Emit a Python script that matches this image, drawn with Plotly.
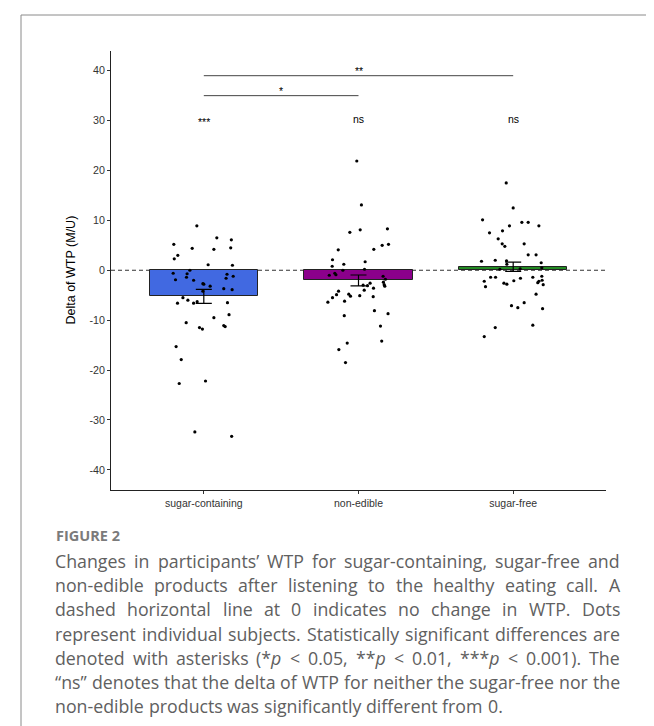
import glob
import os
import struct
import plotly.graph_objects as go

# ---------------- data ----------------
categories = ["sugar-containing", "non-edible", "sugar-free"]
bar_means = [-5.25, -2.05, 0.7]
bar_se = [1.4, 1.1, 0.94]
bar_colors = ["#4169E1", "#8B008B", "#228B22"]

sc_vals = [8.9, 6.5, 6.1, 5.2, 4.4, 4.2, 4.5, 3.0, 2.3, 1.1, 1.0, 0.0, -0.6, -0.7, -1.4,
           -0.8, -1.6, -1.2, -1.9, -2.0, -2.7, -2.8, -3.2, -3.7, -3.9, -4.2, -5.5, -6.0,
           -6.6, -6.6, -6.3, -6.5, -8.9, -9.5, -10.5, -11.5, -11.8, -11.1, -11.3, -15.3,
           -17.9, -22.7, -22.2, -32.4, -33.3]
sc_jit = [-0.045, 0.084, 0.178, -0.194, -0.075, 0.065, 0.174, -0.168, -0.191, 0.028,
          0.185, -0.09, -0.198, -0.108, -0.112, 0.15, 0.144, 0.19, -0.183, -0.066,
          -0.006, 0.0, 0.041, 0.129, 0.183, -0.006, -0.135, -0.103, -0.17, -0.066,
          -0.043, 0.153, 0.163, 0.065, -0.114, -0.028, -0.009, 0.129, 0.138, -0.179,
          -0.146, -0.159, 0.011, -0.058, 0.18]

ne_vals = [21.9, 13.1, 7.6, 8.1, 8.3, 4.1, 4.2, 5.0, 5.2, 2.1, 0.8, 1.2, 1.7, 0.2, 0.0,
           -1.0, -0.6, -0.9, -1.2, -1.8, -2.4, -2.9, -3.2, -3.0, -3.1, -2.6, -3.6, -4.0,
           -4.2, -4.9, -5.5, -6.4, -6.2, -4.8, -5.2, -5.1, -5.3, -8.1, -8.7, -9.1, -11.2,
           -14.6, -15.9, -14.2, -18.5]
ne_jit = [-0.011, 0.019, -0.056, 0.011, 0.187, -0.131, 0.099, 0.153, 0.194, -0.168,
          -0.17, -0.095, 0.043, 0.039, -0.101, -0.189, -0.153, -0.146, 0.159, 0.174,
          0.161, 0.166, 0.170, 0.03, 0.058, 0.075, 0.097, 0.037, -0.129, -0.142,
          -0.168, -0.198, -0.09, -0.063, -0.052, 0.008, 0.095, 0.103, 0.191, -0.092,
          0.142, -0.073, -0.127, 0.15, -0.084]

sf_vals = [17.5, 12.5, 10.1, 9.6, 9.6, 8.9, 8.9, 7.9, 7.5, 6.3, 5.3, 4.8, 5.3, 3.1, 3.1,
           1.8, 2.0, 1.9, 1.2, 1.5, 0.2, 0.3, 0.5, -2.2, -3.3, -1.4, -1.4, -2.6, -2.8,
           -2.1, -1.6, -1.4, -1.2, -2.0, -2.2, -2.5, -2.9, -4.8, -6.5, -7.1, -7.5, -7.7,
           -11.0, -11.5, -13.3]
sf_jit = [-0.045, 0.0, -0.198, 0.056, 0.097, 0.166, -0.024, -0.069, -0.153, -0.097,
          -0.071, -0.054, 0.071, 0.097, 0.148, -0.205, -0.116, -0.043, -0.041, 0.181,
          -0.086, 0.045, 0.185, -0.187, -0.179, -0.146, -0.114, -0.06, -0.041, 0.004,
          0.047, 0.127, 0.185, 0.187, 0.166, 0.159, 0.194, 0.148, 0.071, -0.011, 0.03,
          0.19, 0.127, -0.116, -0.187]

y_ticks = [-40, -30, -20, -10, 0, 10, 20, 30, 40]
y_ticklabels = ["-40", "-30", "-20", "-10", "0", "10", "20", "30", "40"]
y_title = "Delta of WTP (M/U)"

# significance brackets: (from category, to category, y, label)
brackets = [(0, 1, 35, "*"), (0, 2, 39, "**")]
vs_zero_labels = ["***", "ns", "ns"]
vs_zero_y = 30.4

figure_label = "FIGURE 2"
caption_lines = [
    "Changes in participants\u2019 WTP for sugar-containing, sugar-free and",
    "non-edible products after listening to the healthy eating call. A",
    "dashed horizontal line at 0 indicates no change in WTP. Dots",
    "represent individual subjects. Statistically significant differences are",
    "denoted with asterisks (*p < 0.05, **p < 0.01, ***p < 0.001). The",
    "\u201cns\u201d denotes that the delta of WTP for neither the sugar-free nor the",
    "non-edible products was significantly different from 0.",
]

# ---------------- layout geometry (px) ----------------
W, H = 654, 726
PL, PR, PT, PB = 103, 598, 43, 482


def px_x(px):
    return (px - PL) / (PR - PL)


def px_y(py):
    return (PB - py) / (PB - PT)


AX_FONT = "Liberation Sans, Arial, Helvetica, sans-serif"
CAP_FONT = "Open Sans"

fig = go.Figure()

# bars
fig.add_trace(go.Bar(
    x=[0, 1, 2], y=bar_means, width=0.7,
    marker=dict(color=bar_colors, line=dict(color="#222222", width=1)),
    showlegend=False, hoverinfo="skip"))

# individual subjects
for k, (vals, jit) in enumerate([(sc_vals, sc_jit), (ne_vals, ne_jit), (sf_vals, sf_jit)]):
    fig.add_trace(go.Scatter(
        x=[k + j for j in jit], y=vals, mode="markers",
        marker=dict(color="black", size=3.2, line=dict(width=0)),
        showlegend=False, hoverinfo="skip"))

# error bars (mean +/- SE)
fig.add_trace(go.Scatter(
    x=[0, 1, 2], y=bar_means, mode="markers",
    marker=dict(size=0.1, color="rgba(0,0,0,0)"),
    error_y=dict(type="data", array=bar_se, color="black", thickness=1.2, width=8),
    showlegend=False, hoverinfo="skip"))

shapes = []
# dashed zero line
shapes.append(dict(type="line", xref="paper", yref="y", x0=0, x1=1, y0=0, y1=0,
                   line=dict(color="#333333", width=1, dash="4px,3px"), layer="below"))
# brackets
for a, b, yv, lab in brackets:
    shapes.append(dict(type="line", xref="x", yref="y", x0=a, x1=b, y0=yv, y1=yv,
                       line=dict(color="#444444", width=1)))
# frame box
shapes.append(dict(type="rect", xref="paper", yref="paper",
                   x0=px_x(13), x1=px_x(641), y0=px_y(760), y1=px_y(7),
                   line=dict(color="#8a8a8a", width=1), fillcolor="rgba(0,0,0,0)"))

annotations = []
for a, b, yv, lab in brackets:
    annotations.append(dict(x=(a + b) / 2, y=yv, xref="x", yref="y", text=lab,
                            showarrow=False, yanchor="bottom", yshift=-3.5,
                            font=dict(family=AX_FONT, size=10.5, color="black")))
for k, lab in enumerate(vs_zero_labels):
    annotations.append(dict(x=k, y=vs_zero_y, xref="x", yref="y", text=lab,
                            showarrow=False, yanchor="middle",
                            yshift=(-3 if "*" in lab else 0),
                            font=dict(family=AX_FONT, size=10.5, color="black")))

# y axis title
annotations.append(dict(x=px_x(62), y=0.5, xref="paper", yref="paper", text=y_title,
                        textangle=-90, showarrow=False, xanchor="center", yanchor="middle",
                        font=dict(family=AX_FONT, size=12.5, color="black")))

# figure label
annotations.append(dict(x=px_x(46), y=px_y(527.5), xref="paper", yref="paper",
                        text="<b>" + figure_label + "</b>", showarrow=False,
                        xanchor="left", yanchor="middle",
                        font=dict(family=CAP_FONT, size=14.5, color="#7b7b7b")))


# ---------- caption: justified text using font advance widths ----------
def find_font():
    roots = ["/usr/share/fonts", "/usr/local/share/fonts", os.path.expanduser("~/.fonts"),
             os.path.expanduser("~/.local/share/fonts")]
    cands = []
    for r in roots:
        cands += glob.glob(os.path.join(r, "**", "OpenSans*.ttf"), recursive=True)
    if not cands:
        return None
    def score(p):
        n = os.path.basename(p)
        if n == "OpenSans-Regular.ttf":
            return 0
        if "Italic" in n:
            return 5
        if "wght" in n or "wdth" in n:
            return 1
        return 3
    cands.sort(key=score)
    return cands[0]


def load_width_func(path):
    with open(path, "rb") as f:
        data = f.read()
    num = struct.unpack(">H", data[4:6])[0]
    tabs = {}
    for i in range(num):
        tag, cs, off, ln = struct.unpack(">4sIII", data[12 + 16 * i:28 + 16 * i])
        tabs[tag.decode("latin1")] = off
    upem = struct.unpack(">H", data[tabs["head"] + 18:tabs["head"] + 20])[0]
    nhm = struct.unpack(">H", data[tabs["hhea"] + 34:tabs["hhea"] + 36])[0]
    ho = tabs["hmtx"]
    adv = [struct.unpack(">H", data[ho + 4 * i:ho + 4 * i + 2])[0] for i in range(nhm)]
    co = tabs["cmap"]
    n = struct.unpack(">H", data[co + 2:co + 4])[0]
    sub = None
    for i in range(n):
        pid, eid, off = struct.unpack(">HHI", data[co + 4 + 8 * i:co + 12 + 8 * i])
        fmt = struct.unpack(">H", data[co + off:co + off + 2])[0]
        if fmt == 4:
            sub = co + off
            break
    seg2 = struct.unpack(">H", data[sub + 6:sub + 8])[0]
    segs = seg2 // 2
    ends = struct.unpack(">%dH" % segs, data[sub + 14:sub + 14 + seg2])
    starts = struct.unpack(">%dH" % segs, data[sub + 16 + seg2:sub + 16 + 2 * seg2])
    deltas = struct.unpack(">%dh" % segs, data[sub + 16 + 2 * seg2:sub + 16 + 3 * seg2])
    rpos = sub + 16 + 3 * seg2
    roffs = struct.unpack(">%dH" % segs, data[rpos:rpos + seg2])

    def gid(c):
        for i in range(segs):
            if ends[i] >= c:
                if starts[i] > c:
                    return 0
                if roffs[i] == 0:
                    return (c + deltas[i]) & 0xFFFF
                addr = rpos + 2 * i + roffs[i] + 2 * (c - starts[i])
                g = struct.unpack(">H", data[addr:addr + 2])[0]
                return (g + deltas[i]) & 0xFFFF if g else 0
        return 0

    def width(s, size):
        tot = 0
        for ch in s:
            g = gid(ord(ch))
            tot += adv[min(g, nhm - 1)]
        return tot * size / upem
    return width


CAP_LEFT, CAP_RIGHT = 47, 612
CAP_Y0, CAP_DY = 553, 24.2
CAP_COLOR = "#606060"


def fmt_word(w):
    w = w.replace("<", "&lt;")
    for pre in ["(***p", "(**p", "(*p", "***p", "**p", "*p"]:
        if w == pre:
            return w[:-1] + "<i>p</i>"
    return w


width_fn = None
try:
    fp = find_font()
    if fp:
        width_fn = load_width_func(fp)
except Exception:
    width_fn = None

if width_fn is not None:
    L = CAP_RIGHT - CAP_LEFT
    size = min(L / width_fn(line, 1.0) for line in caption_lines[:-1]) * 0.995
    for i, line in enumerate(caption_lines):
        py = CAP_Y0 + CAP_DY * i
        words = line.split(" ")
        ws = [width_fn(w, size) for w in words]
        if i < len(caption_lines) - 1 and len(words) > 1:
            gap = (L - sum(ws)) / (len(words) - 1)
        else:
            gap = width_fn(" ", size)
        x = CAP_LEFT
        for w, wd in zip(words, ws):
            annotations.append(dict(x=px_x(x - 1), y=px_y(py), xref="paper", yref="paper",
                                    text=fmt_word(w), showarrow=False, xanchor="left",
                                    yanchor="middle", borderpad=0,
                                    font=dict(family=CAP_FONT, size=size, color=CAP_COLOR)))
            x += wd + gap
else:
    for i, line in enumerate(caption_lines):
        py = CAP_Y0 + CAP_DY * i
        txt = " ".join(fmt_word(w) for w in line.split(" "))
        annotations.append(dict(x=px_x(CAP_LEFT), y=px_y(py), xref="paper", yref="paper",
                                text=txt, showarrow=False, xanchor="left", yanchor="middle",
                                font=dict(family=CAP_FONT, size=16, color=CAP_COLOR)))

fig.update_layout(
    width=W, height=H, autosize=False,
    margin=dict(l=PL, r=W - PR, t=PT, b=H - PB, pad=0),
    paper_bgcolor="white", plot_bgcolor="white",
    shapes=shapes, annotations=annotations, bargap=0,
    xaxis=dict(range=[-0.6, 2.6], tickmode="array", tickvals=[0, 1, 2], ticktext=categories,
               showline=True, linecolor="#222222", linewidth=1, ticks="outside", ticklen=3,
               tickcolor="#333333", tickwidth=1, showgrid=False, zeroline=False,
               tickfont=dict(family=AX_FONT, size=10.5, color="#333333"), fixedrange=True),
    yaxis=dict(range=[-44.05, 43.95], tickmode="array", tickvals=y_ticks,
               ticktext=y_ticklabels,
               showline=True, linecolor="#222222", linewidth=1, ticks="outside", ticklen=3,
               tickcolor="#333333", tickwidth=1, showgrid=False, zeroline=False,
               tickfont=dict(family=AX_FONT, size=10.7, color="#333333"), fixedrange=True),
)

fig.write_html("out.html")
